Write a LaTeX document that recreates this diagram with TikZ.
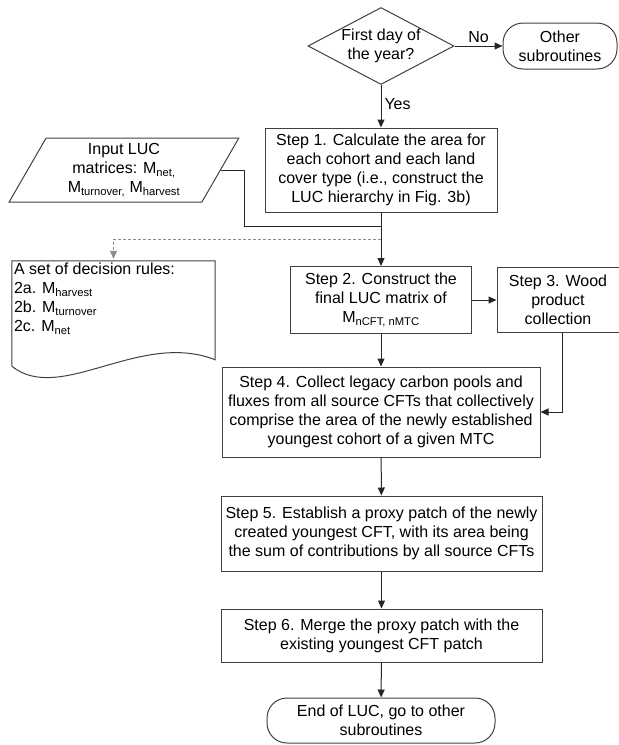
\documentclass[tikz,border=0pt]{standalone}
\usepackage{fontspec}
\setmainfont{Liberation Sans}
\usetikzlibrary{arrows.meta,shapes.geometric,positioning}

\tikzset{
  box/.style={rectangle, draw=black!75, line width=1pt, align=center, inner sep=0pt},
  term/.style={rectangle, rounded corners=20pt, draw=black!75, line width=1pt, align=center, inner sep=0pt},
  decide/.style={diamond, aspect=1.9, draw=black!75, line width=1pt, align=center, inner sep=0pt},
  inbox/.style={trapezium, trapezium left angle=63.4, trapezium right angle=116.6, trapezium stretches=true,
    draw=black!75, line width=1pt, align=center, inner sep=0pt},
  arr/.style={-{Triangle[length=8pt,width=7pt]}, line width=1pt, draw=black!85},
  link/.style={line width=1pt, draw=black!85},
  dashlink/.style={-{Triangle[length=8pt,width=7pt]}, line width=1pt, draw=black!45, dash pattern=on 3pt off 2pt},
}

\begin{document}
\begin{tikzpicture}[x=1pt, y=-1pt, font=\fontsize{16}{19}\selectfont]
      \useasboundingbox (0,0) rectangle (619,745);
      \begin{scope}
        \node (first) at (381,46) [decide, minimum width=146, minimum height=77] {First day of\\the year?};
        \node (other) at (560,46) [term, minimum width=114, minimum height=46] {Other\\subroutines};
        \node (step1) at (381,170) [box, minimum width=232, minimum height=84]
          {Step 1. Calculate the area for\\each cohort and each land\\cover type (i.e., construct the\\LUC hierarchy in Fig. 3b)};
        \node (input) at (124,170) [inbox, minimum width=230, minimum height=64]
          {Input LUC\\matrices: M\textsubscript{net,}\\M\textsubscript{turnover,} M\textsubscript{harvest}};
        \coordinate (jn) at (381,226);
        \coordinate (dj) at (381,239);
      \end{scope}
      \begin{scope}
        \node (doc) at (113.5,313.5) [minimum width=203, minimum height=105, inner sep=0pt] {};
        \draw[line width=1pt, draw=black!75] (doc.south west) -- (doc.north west) -- (doc.north east) -- ++(0,99)
          .. controls (140,330) and (60,405) .. (doc.south west);
        \node (rules) at (doc.north west) [anchor=north west, align=left, inner sep=2pt]
          {A set of decision rules:\\2a. M\textsubscript{harvest}\\2b. M\textsubscript{turnover}\\2c. M\textsubscript{net}};
      \end{scope}
      \begin{scope}
        \node (step2) at (381,300) [box, minimum width=181, minimum height=67]
          {Step 2. Construct the\\final LUC matrix of\\M\textsubscript{nCFT, nMTC}};
        \node (step3) at (558,300) [box, minimum width=122, minimum height=65] {Step 3. Wood\\product\\collection};
        \node (step4) at (381,412) [box, minimum width=318, minimum height=90]
          {Step 4. Collect legacy carbon pools and\\fluxes from all source CFTs that collectively\\comprise the area of the newly established\\youngest cohort of a given MTC};
        \node (step5) at (381.5,533.5) [box, minimum width=321, minimum height=75]
          {Step 5. Establish a proxy patch of the newly\\created youngest CFT, with its area being\\the sum of contributions by all source CFTs};
        \node (step6) at (381.5,635.5) [box, minimum width=321, minimum height=53]
          {Step 6. Merge the proxy patch with the\\existing youngest CFT patch};
        \node (end) at (381,720.5) [term, minimum width=228, minimum height=45] {End of LUC, go to other\\subroutines};
      \end{scope}
      % connectors
      \draw[arr] (first) -- node[above, inner sep=3pt] {No} (other);
      \draw[arr] (first) -- node[right, pos=0.45, inner sep=3pt] {Yes} (step1);
      \draw[link] (input.east) -- ++(24,0) |- (jn);
      \draw[arr] (step1) -- (step2);
      \draw[dashlink, shorten >=2pt] (dj) -| (doc.north);
      \draw[arr] (step2) -- (step3);
      \draw[arr] ([xshift=4pt]step3.south) |- (step4);
      \foreach \a/\b in {step2/step4, step4/step5, step5/step6, step6/end} {
        \draw[arr] (\a) -- (\b);
      }
\end{tikzpicture}
\end{document}
